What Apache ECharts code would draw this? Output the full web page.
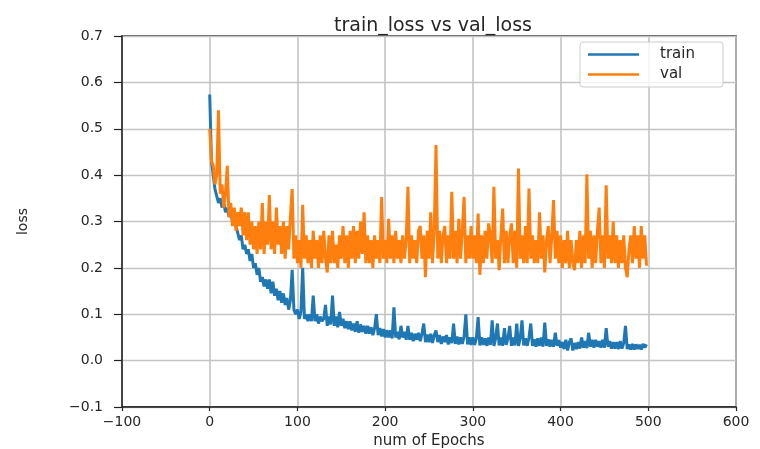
<!DOCTYPE html>
<html>
<head>
<meta charset="utf-8">
<script src="https://cdn.jsdelivr.net/npm/echarts@6/dist/echarts.min.js"></script>
<style>html,body{margin:0;padding:0;background:#fff;}#chart{width:760px;height:449px;}</style>
</head>
<body>
<div id="chart"></div>
<script>
// Epoch spacing between stored samples
const EPOCH_STEP = 2;

// train loss, one value every 2 epochs (0..498)
const trainLoss = [
  0.574, 0.43, 0.40, 0.37, 0.37, 0.34, 0.35, 0.33, 0.34, 0.32,
  0.33, 0.31, 0.32, 0.30, 0.31, 0.29, 0.29, 0.26, 0.27, 0.24,
  0.25, 0.23, 0.24, 0.215, 0.23, 0.20, 0.21, 0.185, 0.20, 0.17,
  0.18, 0.16, 0.175, 0.155, 0.175, 0.145, 0.17, 0.14, 0.155, 0.13,
  0.15, 0.125, 0.145, 0.12, 0.135, 0.11, 0.13, 0.196, 0.11, 0.10,
  0.11, 0.09, 0.105, 0.20, 0.09, 0.10, 0.085, 0.10, 0.085, 0.14,
  0.085, 0.10, 0.08, 0.095, 0.085, 0.09, 0.12, 0.075, 0.095, 0.078,
  0.14, 0.075, 0.095, 0.072, 0.105, 0.075, 0.09, 0.07, 0.085, 0.068,
  0.085, 0.065, 0.08, 0.062, 0.085, 0.06, 0.078, 0.062, 0.075, 0.058,
  0.075, 0.058, 0.072, 0.055, 0.07, 0.10, 0.055, 0.07, 0.052, 0.068,
  0.05, 0.066, 0.05, 0.065, 0.048, 0.115, 0.05, 0.062, 0.046, 0.075,
  0.05, 0.062, 0.045, 0.075, 0.045, 0.06, 0.042, 0.058, 0.045, 0.06,
  0.042, 0.058, 0.08, 0.04, 0.056, 0.04, 0.058, 0.038, 0.055, 0.065,
  0.04, 0.055, 0.036, 0.052, 0.04, 0.055, 0.035, 0.05, 0.038, 0.08,
  0.036, 0.052, 0.035, 0.05, 0.036, 0.052, 0.10, 0.035, 0.05, 0.034,
  0.05, 0.034, 0.048, 0.094, 0.033, 0.05, 0.034, 0.048, 0.032, 0.05,
  0.034, 0.087, 0.032, 0.048, 0.08, 0.033, 0.05, 0.032, 0.07, 0.034,
  0.048, 0.075, 0.032, 0.05, 0.033, 0.08, 0.032, 0.048, 0.087, 0.033,
  0.048, 0.032, 0.05, 0.08, 0.032, 0.046, 0.03, 0.048, 0.032, 0.05,
  0.03, 0.082, 0.032, 0.046, 0.03, 0.045, 0.03, 0.06, 0.032, 0.044,
  0.028, 0.04, 0.025, 0.045, 0.022, 0.04, 0.048, 0.022, 0.038, 0.025,
  0.04, 0.026, 0.05, 0.028, 0.042, 0.027, 0.06, 0.03, 0.045, 0.028,
  0.045, 0.03, 0.042, 0.028, 0.045, 0.028, 0.07, 0.03, 0.042, 0.026,
  0.04, 0.026, 0.04, 0.025, 0.042, 0.026, 0.038, 0.075, 0.025, 0.035,
  0.024, 0.036, 0.024, 0.035, 0.025, 0.034, 0.024, 0.036, 0.028, 0.035
];

// validation loss, one value every 2 epochs (0..498)
const valLoss = [
  0.50, 0.43, 0.42, 0.38, 0.40, 0.54, 0.36, 0.38, 0.33, 0.36,
  0.42, 0.31, 0.34, 0.29, 0.33, 0.28, 0.32, 0.29, 0.33, 0.27,
  0.32, 0.26, 0.32, 0.25, 0.30, 0.24, 0.29, 0.23, 0.30, 0.24,
  0.34, 0.23, 0.30, 0.25, 0.357, 0.24, 0.30, 0.23, 0.33, 0.25,
  0.29, 0.23, 0.30, 0.22, 0.29, 0.24, 0.31, 0.37, 0.22, 0.27,
  0.21, 0.26, 0.20, 0.336, 0.22, 0.27, 0.21, 0.26, 0.20, 0.28,
  0.22, 0.26, 0.20, 0.27, 0.21, 0.28, 0.22, 0.19, 0.27, 0.21,
  0.28, 0.21, 0.25, 0.20, 0.27, 0.22, 0.29, 0.21, 0.27, 0.20,
  0.28, 0.22, 0.29, 0.21, 0.28, 0.22, 0.30, 0.23, 0.32, 0.21,
  0.27, 0.21, 0.26, 0.20, 0.27, 0.22, 0.26, 0.21, 0.353, 0.22,
  0.26, 0.21, 0.306, 0.22, 0.27, 0.21, 0.28, 0.22, 0.26, 0.21,
  0.27, 0.22, 0.26, 0.375, 0.21, 0.27, 0.22, 0.26, 0.21, 0.28,
  0.29, 0.22, 0.27, 0.18, 0.28, 0.22, 0.32, 0.21, 0.28, 0.465,
  0.22, 0.28, 0.21, 0.27, 0.29, 0.21, 0.27, 0.22, 0.364, 0.22,
  0.28, 0.21, 0.306, 0.22, 0.28, 0.353, 0.21, 0.27, 0.22, 0.29,
  0.22, 0.27, 0.21, 0.317, 0.185, 0.27, 0.21, 0.28, 0.22, 0.296,
  0.27, 0.21, 0.375, 0.22, 0.26, 0.195, 0.27, 0.328, 0.21, 0.28,
  0.21, 0.27, 0.296, 0.21, 0.28, 0.20, 0.414, 0.22, 0.27, 0.21,
  0.29, 0.21, 0.371, 0.22, 0.27, 0.21, 0.26, 0.21, 0.32, 0.22,
  0.27, 0.19, 0.26, 0.29, 0.21, 0.27, 0.346, 0.22, 0.28, 0.21,
  0.27, 0.20, 0.26, 0.21, 0.28, 0.20, 0.26, 0.21, 0.195, 0.26,
  0.21, 0.28, 0.20, 0.27, 0.21, 0.402, 0.22, 0.28, 0.20, 0.27,
  0.21, 0.28, 0.33, 0.21, 0.27, 0.20, 0.378, 0.22, 0.27, 0.21,
  0.30, 0.21, 0.27, 0.20, 0.26, 0.21, 0.27, 0.20, 0.18, 0.24,
  0.27, 0.21, 0.29, 0.22, 0.27, 0.20, 0.29, 0.22, 0.27, 0.205
];

const seriesNames = ['train', 'val'];
const xTickRange = [-100, 600, 100];
const yTickRange = [-0.1, 0.7, 0.1];

const epochs = trainLoss.map((_, i) => i * EPOCH_STEP);
const toPairs = arr => arr.map((v, i) => [epochs[i], v]);
const fmt = (v, d) => (v < 0 ? '\u2212' : '') + Math.abs(v).toFixed(d);

const FONT = 'DejaVu Sans';
const TXT = '#262626';

const chart = echarts.init(document.getElementById('chart'), null, { renderer: 'canvas' });
chart.setOption({
  backgroundColor: '#ffffff',
  animation: false,
  title: {
    text: 'train_loss vs val_loss',
    left: 428,
    textAlign: 'center',
    top: 12,
    textStyle: { fontFamily: FONT, fontSize: 19, fontWeight: 'normal', color: TXT }
  },
  legend: {
    data: seriesNames,
    orient: 'vertical',
    right: 37,
    top: 42,
    icon: 'rect',
    itemWidth: 51,
    itemHeight: 2.5,
    itemGap: 5,
    padding: [5, 10, 5, 8],
    borderColor: '#cccccc',
    borderWidth: 1,
    borderRadius: 3,
    backgroundColor: 'rgba(255,255,255,0.8)',
    textStyle: { fontFamily: FONT, fontSize: 15, color: TXT, lineHeight: 15, width: 53, padding: [0, 0, 0, 16] }
  },
  grid: {
    left: 122, right: 24, top: 36, bottom: 42,
    outerBoundsMode: 'none',
    containLabel: false,
    show: true, borderColor: '#222', borderWidth: 1.5, backgroundColor: 'transparent'
  },
  xAxis: {
    type: 'value',
    min: xTickRange[0], max: xTickRange[1], interval: xTickRange[2],
    name: 'num of Epochs',
    nameLocation: 'middle',
    nameGap: 23,
    nameTextStyle: { fontFamily: FONT, fontSize: 15, color: TXT },
    axisLine: { show: true, onZero: false, lineStyle: { color: '#222', width: 1.5 } },
    axisTick: { show: true, length: 4, lineStyle: { color: '#222', width: 1.2 } },
    axisLabel: { fontFamily: FONT, fontSize: 14, color: TXT, margin: 8, formatter: v => fmt(v, 0) },
    splitLine: { show: true, lineStyle: { color: '#c4c4c4', width: 1.6 } }
  },
  yAxis: {
    type: 'value',
    min: yTickRange[0], max: yTickRange[1], interval: yTickRange[2],
    name: 'loss',
    nameLocation: 'middle',
    nameGap: 92,
    nameRotate: 90,
    nameTextStyle: { fontFamily: FONT, fontSize: 14, color: TXT },
    axisLine: { show: true, onZero: false, lineStyle: { color: '#222', width: 1.5 } },
    axisTick: { show: true, length: 8, lineStyle: { color: '#222', width: 1.2 } },
    axisLabel: { fontFamily: FONT, fontSize: 14, color: TXT, margin: 19, formatter: v => fmt(v, 1) },
    splitLine: { show: true, lineStyle: { color: '#c4c4c4', width: 1.4 } }
  },
  series: [
    {
      name: seriesNames[0], type: 'line', data: toPairs(trainLoss),
      showSymbol: false, symbol: 'none', color: '#1f77b4',
      lineStyle: { color: '#1f77b4', width: 3 }, z: 2
    },
    {
      name: seriesNames[1], type: 'line', data: toPairs(valLoss),
      showSymbol: false, symbol: 'none', color: '#ff7f0e',
      lineStyle: { color: '#ff7f0e', width: 3 }, z: 3
    }
  ]
});
</script>
</body>
</html>
